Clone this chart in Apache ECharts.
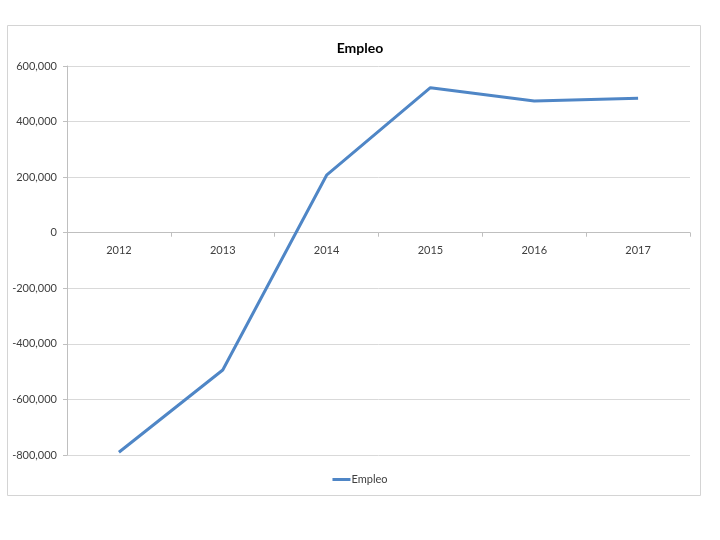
<!DOCTYPE html>
<html>
<head>
<meta charset="utf-8">
<script src="https://cdn.jsdelivr.net/npm/echarts@6/dist/echarts.min.js"></script>
<style>
html,body{margin:0;padding:0;background:#fff;}
#main{width:720px;height:540px;}
</style>
</head>
<body>
<div id="main"></div>
<script>
const categories = ['2012', '2013', '2014', '2015', '2016', '2017'];
const empleo = [-790000, -494000, 207000, 522000, 474000, 484000];
const seriesName = 'Empleo';
const chartTitle = 'Empleo';
const yMin = -800000, yMax = 600000, yStep = 200000;

const gridTop = 66, gridBottom = 85, chartH = 540;
const plotH = chartH - gridTop - gridBottom;
const zeroOffset = -plotH * (0 - yMin) / (yMax - yMin);

const chart = echarts.init(document.getElementById('main'));
const font = 'Lato, "Open Sans", sans-serif';
chart.setOption({
  backgroundColor: '#ffffff',
  animation: false,
  graphic: [{
    type: 'rect',
    shape: { x: 7.5, y: 25.5, width: 693, height: 470 },
    style: { fill: 'none', stroke: '#d4d4d4', lineWidth: 1 },
    silent: true
  }],
  title: {
    text: chartTitle,
    left: 'center',
    top: 36,
    textStyle: { fontFamily: font, fontSize: 14, fontWeight: 'bold', color: '#000' }
  },
  legend: {
    data: [seriesName],
    left: 'center',
    top: 469,
    icon: 'rect',
    itemWidth: 18,
    itemHeight: 3,
    itemGap: 2,
    textStyle: { fontFamily: font, fontSize: 11, color: '#404040', padding: [0,0,0,-4] }
  },
  grid: { left: 67, right: 30, top: gridTop, bottom: gridBottom, containLabel: false },
  xAxis: {
    type: 'category',
    data: categories,
    boundaryGap: true,
    position: 'bottom',
    offset: zeroOffset,
    axisLine: { onZero: false, lineStyle: { color: '#bfbfbf', width: 1 } },
    axisTick: { show: true, length: 4, lineStyle: { color: '#bfbfbf' } },
    axisLabel: { margin: 12, fontFamily: font, fontSize: 11, color: '#404040' }
  },
  yAxis: {
    type: 'value',
    min: yMin,
    max: yMax,
    interval: yStep,
    axisLine: { show: true, lineStyle: { color: '#bfbfbf', width: 1 } },
    axisTick: { show: true, length: 4, lineStyle: { color: '#bfbfbf' } },
    splitLine: { lineStyle: { color: '#d9d9d9', width: 1 } },
    axisLabel: {
      margin: 10,
      fontFamily: font, fontSize: 11, color: '#404040',
      formatter: v => v.toLocaleString('en-US')
    }
  },
  series: [{
    name: seriesName,
    type: 'line',
    data: empleo,
    showSymbol: false,
    symbol: 'none',
    lineStyle: { color: '#4f86c6', width: 3 },
    itemStyle: { color: '#4f86c6' }
  }]
});
</script>
</body>
</html>
